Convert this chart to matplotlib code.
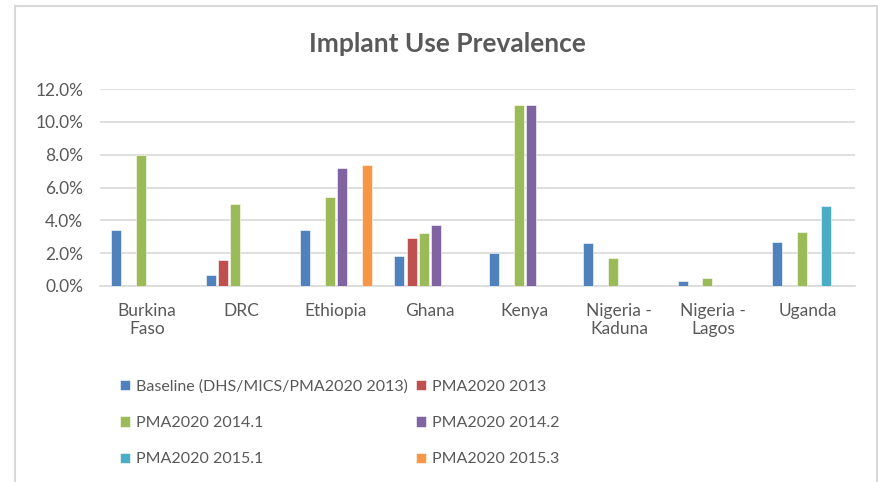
import numpy as np
import matplotlib.pyplot as plt
from matplotlib.patches import Rectangle
from matplotlib.ticker import FuncFormatter

plt.rcParams['font.family'] = ['Lato', 'DejaVu Sans']

countries = ['Burkina\nFaso', 'DRC', 'Ethiopia', 'Ghana', 'Kenya',
             'Nigeria -\nKaduna', 'Nigeria -\nLagos', 'Uganda']
nan = np.nan
baseline = [3.4, 0.7, 3.4, 1.8, 2.0, 2.6, 0.3, 2.7]
pma_2013 = [nan, 1.6, nan, 2.9, nan, nan, nan, nan]
pma_2014_1 = [8.0, 5.0, 5.4, 3.2, 11.0, 1.7, 0.5, 3.3]
pma_2014_2 = [nan, nan, 7.2, 3.7, 11.0, nan, nan, nan]
pma_2015_1 = [nan, nan, nan, nan, nan, nan, nan, 4.9]
pma_2015_3 = [nan, nan, 7.4, nan, nan, nan, nan, nan]

series = [
    ('Baseline (DHS/MICS/PMA2020 2013)', baseline, '#4F81BD'),
    ('PMA2020 2013', pma_2013, '#C0504D'),
    ('PMA2020 2014.1', pma_2014_1, '#9BBB59'),
    ('PMA2020 2014.2', pma_2014_2, '#8064A2'),
    ('PMA2020 2015.1', pma_2015_1, '#4BACC6'),
    ('PMA2020 2015.3', pma_2015_3, '#F79646'),
]

fig = plt.figure(figsize=(8.79, 4.82), dpi=100)
ax = fig.add_axes([100 / 879, 1 - 286 / 482, 755 / 879, 197 / 482])

x = np.arange(len(countries))
pitch = 0.131
width = 0.106
bars = []
for i, (name, vals, col) in enumerate(series):
    v = np.array(vals, dtype=float) / 100
    b = ax.bar(x + (i - 2.5) * pitch, v, width, color=col, label=name,
               edgecolor='white', linewidth=0.4, zorder=3)
    bars.append(b)

ax.set_xlim(-0.5, len(countries) - 0.5)
ax.set_ylim(0, 0.12)
ax.set_yticks(np.arange(0, 0.121, 0.02))
ax.yaxis.set_major_formatter(FuncFormatter(lambda v, p: '%.1f%%' % (v * 100)))
ax.set_xticks(x)
ax.set_xticklabels(countries)
ax.grid(axis='y', color='#D9D9D9', linewidth=1.2, zorder=0)
for s in ['top', 'right', 'left']:
    ax.spines[s].set_visible(False)
ax.spines['bottom'].set_color('#D9D9D9')
ax.spines['bottom'].set_linewidth(1.2)
ax.tick_params(length=0, labelsize=12.5, labelcolor='#595959')
ax.tick_params(axis='x', pad=12)
ax.tick_params(axis='y', pad=12)

fig.text(0.509, 1 - 44 / 482, 'Implant Use Prevalence', ha='center', va='center',
         fontsize=19, fontweight='bold', color='#595959')

# legend is filled by column, so reorder to read row by row
order = [0, 2, 4, 1, 3, 5]
fig.legend([bars[i] for i in order], [series[i][0] for i in order],
           loc='upper left', bbox_to_anchor=(106 / 879, 1 - 365 / 482), ncol=2,
           frameon=False, fontsize=11.5, handlelength=0.6, handleheight=0.6,
           handletextpad=0.4, labelspacing=1.4, columnspacing=0.5,
           labelcolor='#595959')

fig.patches.append(Rectangle((15 / 879, -0.1), 862 / 879, 1.1 - 6 / 482,
                             transform=fig.transFigure, fill=False,
                             edgecolor='#D9D9D9', linewidth=1.5))

fig.savefig('out.png', dpi=100)
